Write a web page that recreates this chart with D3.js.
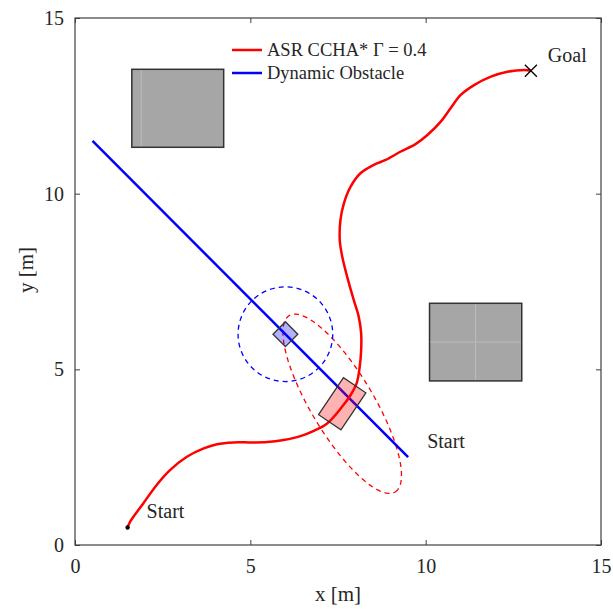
<!DOCTYPE html>
<html lang="en">
<head>
<meta charset="utf-8">
<style>
  body { margin: 0; background: #fff; }
  text { font-family: "Liberation Serif", "Times New Roman", serif; fill: #262626; }
</style>
</head>
<body>
<svg></svg>
<script src="https://d3js.org/d3.v7.min.js"></script>
<script>
// size
var svgWidth = 613, svgHeight = 609;

// red path (ASR CCHA*)
var pathX = [1.5, 1.57, 1.95, 2.33, 2.71, 3.19, 3.67, 4.05, 4.52, 5.0, 5.48, 5.95, 6.43, 6.81, 7.19,
  7.62, 7.86, 8.03, 8.12, 8.16, 8.16, 8.09, 7.95, 7.76, 7.62, 7.55, 7.57, 7.67, 7.86, 8.14, 8.52,
  8.86, 9.29, 9.71, 10.05, 10.43, 10.71, 11.0, 11.38, 11.86, 12.33, 12.81, 13.0];
var pathY = [0.5, 0.66, 1.19, 1.71, 2.13, 2.51, 2.75, 2.87, 2.92, 2.92, 2.93, 2.99, 3.10, 3.25, 3.46,
  3.94, 4.27, 4.60, 5.08, 5.55, 6.03, 6.50, 6.97, 7.64, 8.21, 8.68, 9.25, 9.73, 10.20, 10.58, 10.82,
  10.96, 11.20, 11.41, 11.67, 12.05, 12.43, 12.81, 13.09, 13.33, 13.47, 13.52, 13.5];

// dynamic obstacle line
var dynX = [0.5, 9.5];
var dynY = [11.5, 2.5];

// static obstacles
var obsX0 = [1.62, 10.11];
var obsX1 = [4.24, 12.74];
var obsY0 = [11.32, 4.67];
var obsY1 = [13.54, 6.88];

// ego car + uncertainty ellipse
var carC = [7.62, 4.02], carL = 1.27, carW = 0.77, carAng = 56;
var ellA = 2.93, ellB = 0.89, ellAng = -59;
// obstacle box + safety circle
var obC = [6.0, 6.0], obSide = 0.5, obAng = -45, obR = 1.35;

var ticks = [0, 5, 10, 15];
var legendLabels = ['ASR CCHA* \u0393 = 0.4', 'Dynamic Obstacle'];

var svg = d3.select('svg').attr('width', svgWidth).attr('height', svgHeight);

var x = d3.scaleLinear().domain([0, 15]).range([75, 601]);
var y = d3.scaleLinear().domain([0, 15]).range([545, 18]);

// obstacles
svg.selectAll('rect.obs')
  .data(d3.range(obsX0.length))
  .enter().append('rect')
  .attr('class', 'obs')
  .attr('x', function(i) { return x(obsX0[i]); })
  .attr('y', function(i) { return y(obsY1[i]); })
  .attr('width', function(i) { return x(obsX1[i]) - x(obsX0[i]); })
  .attr('height', function(i) { return y(obsY0[i]) - y(obsY1[i]); })
  .attr('fill', '#a6a6a6')
  .attr('stroke', '#333')
  .attr('stroke-width', 1.5);

// faint mesh lines on the obstacles
var mx = (obsX0[1] + obsX1[1]) / 2, my = (obsY0[1] + obsY1[1]) / 2;
svg.append('line').attr('x1', x(mx)).attr('x2', x(mx)).attr('y1', y(obsY1[1]) + 1).attr('y2', y(obsY0[1]) - 1)
  .attr('stroke', '#bdbdbd').attr('stroke-width', 1);
svg.append('line').attr('x1', x(obsX0[1]) + 1).attr('x2', x(obsX1[1]) - 1).attr('y1', y(my)).attr('y2', y(my))
  .attr('stroke', '#bdbdbd').attr('stroke-width', 1);
svg.append('line').attr('x1', x(obsX0[0] + 0.27)).attr('x2', x(obsX0[0] + 0.27)).attr('y1', y(obsY1[0]) + 1).attr('y2', y(obsY0[0]) - 1)
  .attr('stroke', '#bdbdbd').attr('stroke-width', 1);

// rotated rectangle corners in data units
function boxPts(c, L, Wd, angDeg) {
  var a = angDeg * Math.PI / 180, ca = Math.cos(a), sa = Math.sin(a);
  return [[L / 2, Wd / 2], [-L / 2, Wd / 2], [-L / 2, -Wd / 2], [L / 2, -Wd / 2]].map(function(p) {
    return [x(c[0] + p[0] * ca - p[1] * sa), y(c[1] + p[0] * sa + p[1] * ca)];
  });
}

var line = d3.line().x(function(d) { return x(d[0]); }).y(function(d) { return y(d[1]); });

// dashed ellipse
var ea = ellAng * Math.PI / 180;
var ellPts = d3.range(0, 361, 3).map(function(t) {
  var r = t * Math.PI / 180, u = ellA * Math.cos(r), v = ellB * Math.sin(r);
  return [carC[0] + u * Math.cos(ea) - v * Math.sin(ea), carC[1] + u * Math.sin(ea) + v * Math.cos(ea)];
});
svg.append('path').attr('d', line(ellPts) + 'Z')
  .attr('fill', 'none').attr('stroke', '#ff0000').attr('stroke-width', 1.3).attr('stroke-dasharray', '5,4');

// dashed circle
svg.append('circle')
  .attr('cx', x(obC[0])).attr('cy', y(obC[1]))
  .attr('r', x(obR) - x(0))
  .attr('fill', 'none').attr('stroke', '#0000ff').attr('stroke-width', 1.3).attr('stroke-dasharray', '5,4');

// dynamic obstacle trajectory
svg.append('path')
  .attr('d', line(d3.zip(dynX, dynY)))
  .attr('fill', 'none').attr('stroke', '#0000ff').attr('stroke-width', 2.5);

// red path
var curve = d3.line().curve(d3.curveCatmullRom)
  .x(function(d) { return x(d[0]); }).y(function(d) { return y(d[1]); });
svg.append('path')
  .attr('d', curve(d3.zip(pathX, pathY)))
  .attr('fill', 'none').attr('stroke', '#ff0000').attr('stroke-width', 2.5);

// car and obstacle boxes
svg.append('polygon')
  .attr('points', boxPts(carC, carL, carW, carAng).join(' '))
  .attr('fill', 'rgba(255,0,0,0.3)').attr('stroke', '#333').attr('stroke-width', 1.3);
svg.append('polygon')
  .attr('points', boxPts(obC, obSide, obSide, obAng).join(' '))
  .attr('fill', 'rgba(0,0,255,0.3)').attr('stroke', '#333').attr('stroke-width', 1.3);

// start dot and goal cross
svg.append('circle').attr('cx', x(pathX[0])).attr('cy', y(pathY[0])).attr('r', 2.2).attr('fill', '#000');
var gx = x(pathX[pathX.length - 1]), gy = y(pathY[pathY.length - 1]);
svg.append('path')
  .attr('d', 'M' + (gx - 6) + ',' + (gy - 6) + 'L' + (gx + 6) + ',' + (gy + 6) +
             'M' + (gx - 6) + ',' + (gy + 6) + 'L' + (gx + 6) + ',' + (gy - 6))
  .attr('stroke', '#000').attr('stroke-width', 1.3);

// annotations
svg.append('text').attr('x', x(pathX[0]) + 19).attr('y', y(pathY[0]) - 9).attr('font-size', 20).text('Start');
svg.append('text').attr('x', x(dynX[1]) + 19).attr('y', y(dynY[1]) - 9).attr('font-size', 20).text('Start');
svg.append('text').attr('x', gx + 17).attr('y', gy - 9).attr('font-size', 20).text('Goal');

// axes (box, inward ticks)
function styleAxis(g) {
  g.attr('font-family', '"Liberation Serif", serif').attr('font-size', 20);
  g.selectAll('.domain').remove();
  g.selectAll('.tick line').attr('stroke', '#404040');
  g.selectAll('.tick text').attr('fill', '#262626');
}
svg.append('g').attr('transform', 'translate(0,545)')
  .call(d3.axisBottom(x).tickValues(ticks).tickSizeInner(-5).tickSizeOuter(0).tickPadding(14))
  .call(styleAxis);
svg.append('g').attr('transform', 'translate(75,0)')
  .call(d3.axisLeft(y).tickValues(ticks).tickSizeInner(-5).tickSizeOuter(0).tickPadding(11))
  .call(styleAxis);
svg.append('g').attr('transform', 'translate(0,18)')
  .call(d3.axisTop(x).tickValues(ticks).tickSizeInner(-5).tickSizeOuter(0).tickFormat(''))
  .call(styleAxis);
svg.append('g').attr('transform', 'translate(601,0)')
  .call(d3.axisRight(y).tickValues(ticks).tickSizeInner(-5).tickSizeOuter(0).tickFormat(''))
  .call(styleAxis);
svg.append('rect').attr('x', 75).attr('y', 18).attr('width', 526).attr('height', 527)
  .attr('fill', 'none').attr('stroke', '#404040').attr('stroke-width', 1.2);

// axis titles
svg.append('text').attr('x', 338).attr('y', 601).attr('text-anchor', 'middle').attr('font-size', 21).text('x [m]');
svg.append('text').attr('transform', 'translate(33,270) rotate(-90)').attr('text-anchor', 'middle')
  .attr('font-size', 21).text('y [m]');

// legend
var legColors = ['#ff0000', '#0000ff'];
var leg = svg.selectAll('g.leg').data(legendLabels).enter().append('g')
  .attr('class', 'leg')
  .attr('transform', function(d, i) { return 'translate(232,' + (50 + i * 23) + ')'; });
leg.append('line').attr('x1', 0).attr('x2', 30).attr('y1', 0).attr('y2', 0)
  .attr('stroke', function(d, i) { return legColors[i]; }).attr('stroke-width', 2.5);
leg.append('text').attr('x', 35).attr('y', 6).attr('font-size', 18.5).text(function(d) { return d; });
</script>
</body>
</html>
